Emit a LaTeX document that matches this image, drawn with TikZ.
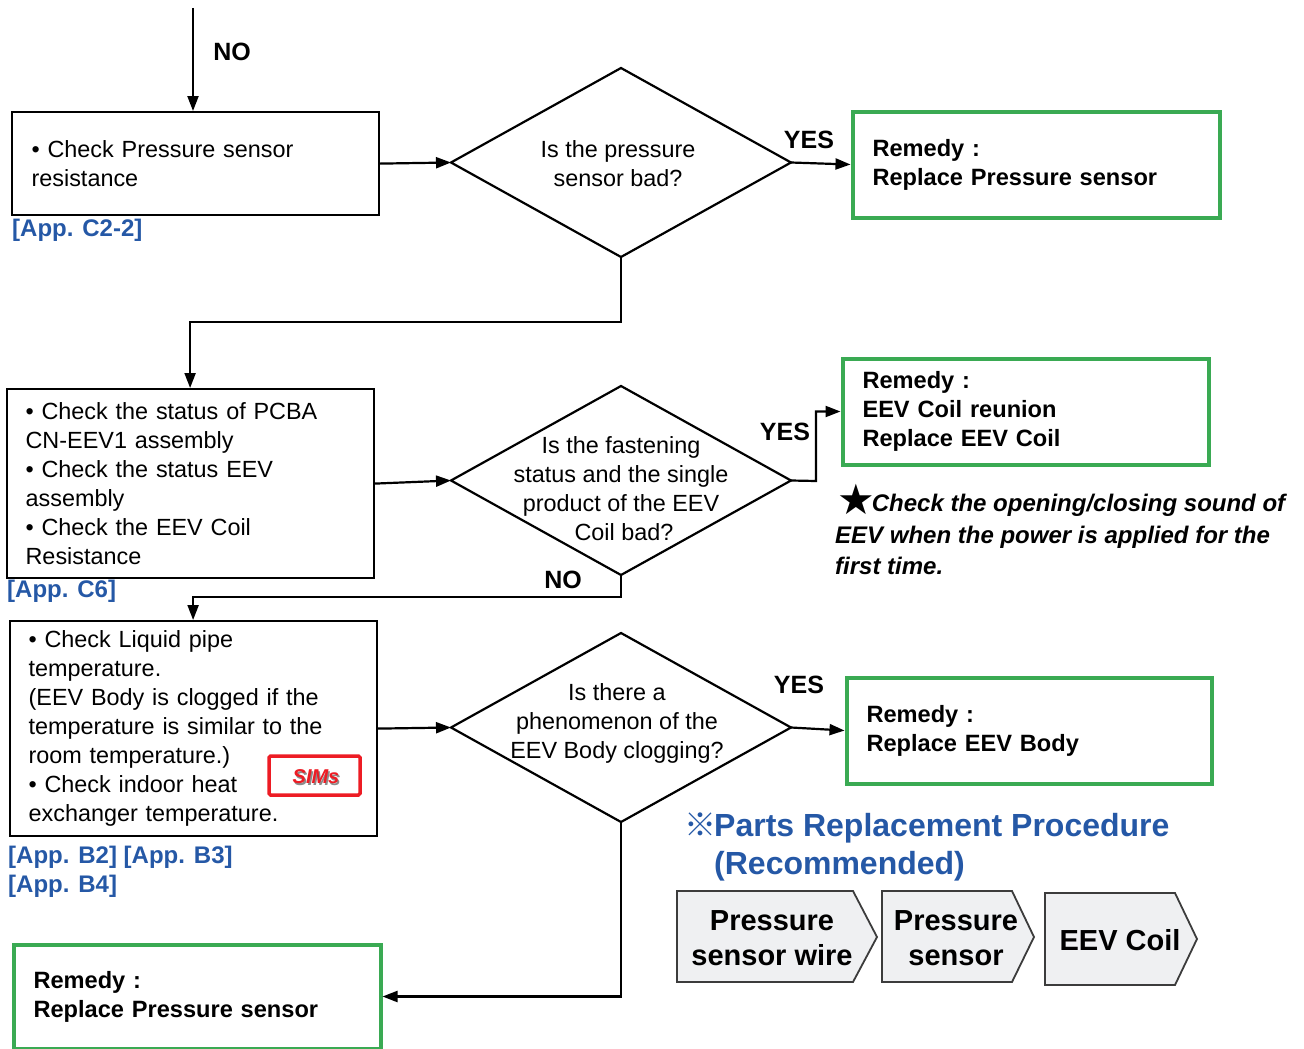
\documentclass[tikz,border=0pt]{standalone}
\usepackage{fontspec}
\setmainfont{Liberation Sans}
\newfontfamily\cjkfont{Noto Sans CJK JP}
\newfontfamily\symfont{DejaVu Sans}
\usetikzlibrary{shapes.geometric,arrows.meta,calc}
\definecolor{grn}{RGB}{58,170,83}
\definecolor{appblue}{RGB}{37,88,166}
\definecolor{simsred}{RGB}{237,28,36}
\definecolor{arrfill}{RGB}{239,240,242}
\definecolor{arrdraw}{RGB}{60,60,60}
\newcommand{\normtext}{\fontsize{23.4}{29}\selectfont}
\newcommand{\boldtext}{\fontsize{23.6}{29}\selectfont\bfseries}
\begin{document}
\begin{tikzpicture}[x=1pt,y=-1pt,
  line/.style={line width=2.2pt, draw=black},
  arr/.style={line, -{Triangle[length=15pt,width=11pt]}},
  box/.style={draw, line width=2.2pt, inner xsep=19pt, inner ysep=0pt, anchor=north west, align=left, font=\normtext},
  remedy/.style={draw=grn, line width=4pt, inner xsep=20pt, inner ysep=0pt, anchor=north west, align=left, font=\boldtext},
  decision/.style={draw, diamond, line width=2.2pt, inner sep=0pt, outer sep=0pt, minimum width=340pt, minimum height=189pt},
  dtext/.style={align=center, font=\normtext, inner sep=0pt},
  lbl/.style={font=\fontsize{25}{29}\selectfont\bfseries, inner sep=0pt},
  applbl/.style={font=\fontsize{24}{29}\selectfont\bfseries, text=appblue, anchor=west, inner sep=0pt},
  parts/.style={fill=arrfill, draw=arrdraw, line width=1.8pt},
  partstext/.style={font=\fontsize{29}{35}\selectfont\bfseries, align=center, inner sep=0pt}
]
\useasboundingbox (0,0) rectangle (1304,1049);

% ---- top
\coordinate (top) at (193,8);
\node[lbl] (no1) at (232,52) {NO};
\node[box, text width=328pt, minimum width=367pt, minimum height=103pt] (b1) at (11,111)
  {• Check Pressure sensor\\resistance};
\node[applbl] (app1) at (12,230) {[App. C2-2]};
\node[decision] (d1) at (621,162.5) {};
\node[dtext] (d1t) at (618,164) {Is the pressure\\sensor bad?};
\node[remedy, text width=327pt, minimum width=367pt, minimum height=106pt] (g1) at (850.5,109.5)
  {Remedy :\\Replace Pressure sensor};
\node[lbl] (yes1) at (809,140) {YES};

\draw[arr] (top) -- (top |- b1.north);
\draw[arr] (b1.east) -- (d1.west);
\draw[arr] (d1.east) -- (g1.west);

% ---- second
\node[box, text width=329pt, minimum width=366pt, minimum height=189pt] (b2) at (5.5,388)
  {• Check the status of PCBA\\CN-EEV1 assembly\\• Check the status EEV\\assembly\\• Check the EEV Coil\\Resistance};
\node[applbl] (app2) at (7,591) {[App. C6]};
\node[decision] (d2) at (621,480.5) {};
\node[dtext] (d2t) at (621,488.5) {Is the fastening\\status and the single\\product of the EEV\\\hspace*{6pt}Coil bad?};
\node[remedy, text width=326pt, minimum width=366pt, minimum height=106pt] (g2) at (840.5,356.5)
  {Remedy :\\EEV Coil reunion\\Replace EEV Coil};
\node[lbl] (yes2) at (785,432) {YES};
\coordinate (bend1) at (621,322);
\coordinate (bend2) at (816,481);

\draw[arr] (d1.south) -- (bend1) -| (b2.north);
\draw[arr] (b2.east) -- (d2.west);
\draw[arr] (d2.east) -- (bend2) |- (g2.west);

\node[font=\fontsize{24}{31.5}\selectfont\bfseries\itshape, align=left, anchor=north west, inner sep=0pt] (note) at (835,494)
  {\hspace*{2pt}\smash{\raisebox{-3pt}{\symfont\upshape\fontsize{42}{31}\selectfont ★}}\hspace*{-3pt}Check the opening/closing sound of\\EEV when the power is applied for the\\first time.};

% ---- third
\node[lbl] (no2) at (563,580) {NO};
\coordinate (bend3) at (621,597);
\node[box, text width=329pt, minimum width=366pt, minimum height=215pt] (b3) at (8.5,620)
  {• Check Liquid pipe\\temperature.\\(EEV Body is clogged if the\\temperature is similar to the\\room temperature.)\\• Check indoor heat\\exchanger temperature.};
\node[draw=simsred, line width=3.5pt, rounded corners=1.5pt, minimum width=91pt, minimum height=39pt, inner sep=0pt] (sims) at (314.5,775.5) {};
\node[font=\fontsize{20}{24}\selectfont\bfseries\itshape, text=black!45, inner sep=0pt] (simsshadow) at (317.5,778.5) {SIMs};
\node[font=\fontsize{20}{24}\selectfont\bfseries\itshape, text=simsred, inner sep=0pt] (simst) at (316,777) {SIMs};
\node[applbl] (app3) at (8,857) {[App. B2] [App. B3]};
\node[applbl] (app4) at (8,886) {[App. B4]};
\node[decision] (d3) at (621,727.5) {};
\node[dtext] (d3t) at (617,723) {Is there a\\phenomenon of the\\EEV Body clogging?};
\node[remedy, text width=325pt, minimum width=365pt, minimum height=106pt] (g3) at (844.5,675.5)
  {Remedy :\\Replace EEV Body};
\node[lbl] (yes3) at (799,685) {YES};

\draw[arr] (d2.south) -- (bend3) -| (b3.north);
\draw[arr] (b3.east) -- (d3.west);
\draw[arr] (d3.east) -- (g3.west);

% ---- bottom remedy
\node[remedy, text width=327pt, minimum width=367pt, minimum height=104pt] (g4) at (11.5,942.5)
  {Remedy :\\Replace Pressure sensor};
\draw[arr] (d3.south) |- (g4.east);

% ---- parts replacement
\node[font=\fontsize{32}{38}\selectfont\bfseries, text=appblue, align=left, anchor=west, inner sep=0pt] (ptitle) at (684,847)
  {\makebox[30pt][l]{\cjkfont\mdseries ※}Parts Replacement Procedure\\\hspace*{30pt}(Recommended)};

\draw[parts] (677,891) -- (853,891) -- (877,937) -- (853,982) -- (677,982) -- cycle;
\draw[parts] (882,891) -- (1012,891) -- (1034,937) -- (1012,982) -- (882,982) -- cycle;
\draw[parts] (1045,893) -- (1175,893) -- (1197,939) -- (1175,985) -- (1045,985) -- cycle;
\node[partstext] (p1) at (772,938.5) {Pressure\\sensor wire};
\node[partstext] (p2) at (956,938.5) {Pressure\\sensor};
\node[partstext] (p3) at (1120,940) {EEV Coil};
\end{tikzpicture}
\end{document}
